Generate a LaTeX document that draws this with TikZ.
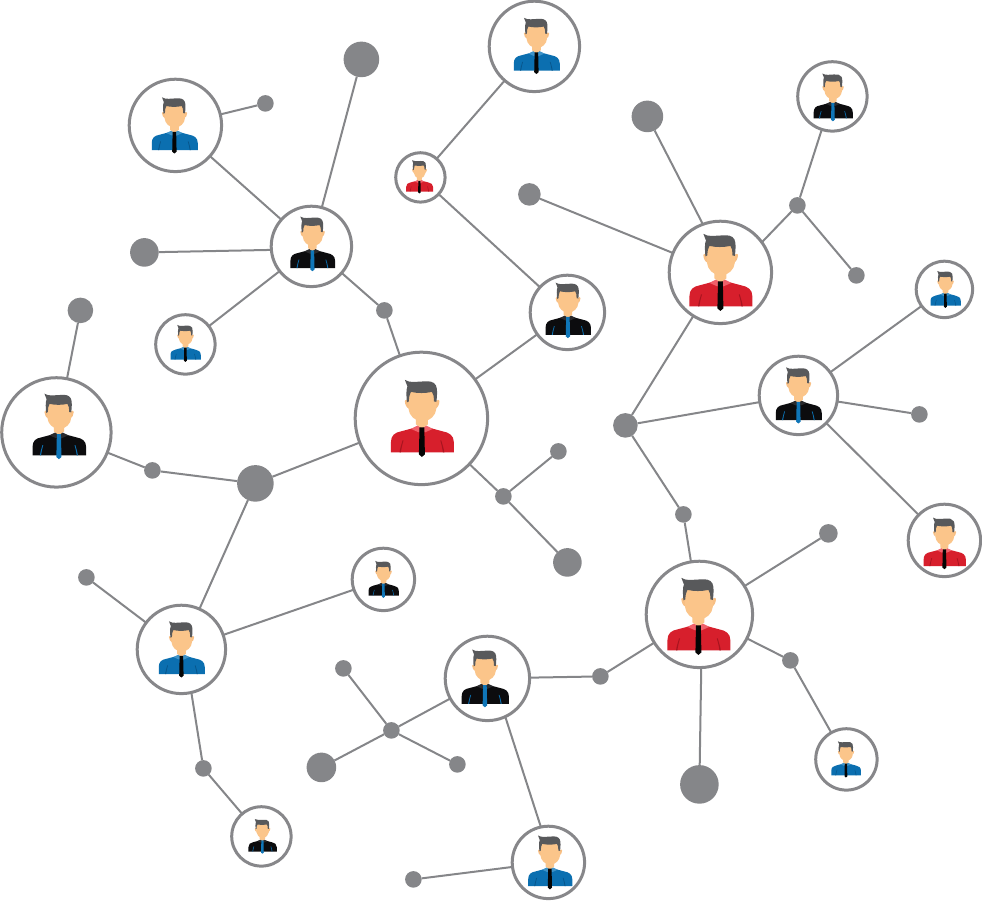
\documentclass[tikz,border=0pt]{standalone}
\definecolor{linegray}{HTML}{858689}
\definecolor{ringgray}{HTML}{87878A}
\definecolor{hairgray}{HTML}{58595B}
\definecolor{skin}{HTML}{FBC58A}
\definecolor{skindark}{HTML}{F8BF84}
\definecolor{shirtred}{HTML}{D71F2C}
\definecolor{collarred}{HTML}{F0606A}
\definecolor{seamred}{HTML}{A8141F}
\definecolor{tiered}{HTML}{050505}
\definecolor{shirtblue}{HTML}{0B6FB0}
\definecolor{collarblue}{HTML}{3F93C8}
\definecolor{seamblue}{HTML}{07568C}
\definecolor{tieblue}{HTML}{050505}
\definecolor{shirtblack}{HTML}{0C0C0E}
\definecolor{collarblack}{HTML}{2A2A2C}
\definecolor{seamblack}{HTML}{0B6FB0}
\definecolor{tieblack}{HTML}{0F76B8}
\tikzset{
  ring/.style={circle,draw=ringgray,line width=3pt,fill=white,inner sep=0pt,outer sep=0pt},
  hub/.style={circle,fill=linegray,inner sep=0pt,outer sep=0pt},
  link/.style={draw=linegray,line width=2pt}
}
% name, x, y, radius, figure x, figure y, figure scale, shirt kind
\newcommand{\personnode}[8]{%
  \node[ring,minimum size=2*#4*1pt-1.6pt] (#1) at (#2,#3) {};
  \begin{scope}[shift={(#5,#6)},scale=#7]
    \fill[shirt#8] (-31,34) -- (-31,24) .. controls (-31,17) and (-27,14) .. (-21,13)
      -- (-6,9) -- (6,9) -- (21,13) .. controls (27,14) and (32,17) .. (32,24) -- (32,34) -- cycle;
    \fill[seam#8] (-22.4,34) .. controls (-21.9,30) and (-20.4,26) .. (-19.4,22) -- (-18.4,22) .. controls (-19.5,26) and (-20.6,30) .. (-21,34) -- cycle;
    \fill[seam#8] (22.4,34) .. controls (21.9,30) and (20.4,26) .. (19.4,22) -- (18.4,22) .. controls (19.5,26) and (20.6,30) .. (21,34) -- cycle;
    \fill[collar#8] (-11,10.5) -- (-4,7) -- (0,10) -- (-3,14) -- cycle;
    \fill[collar#8] (11,10.5) -- (4,7) -- (0,10) -- (3,14) -- cycle;
    \fill[skin] (-6,-6) -- (6,-6) -- (6,6) -- (0,10) -- (-6,6) -- cycle;
    \fill[skindark] (-17,-17) .. controls (-17.5,-19) and (-14,-19) .. (-13,-17) -- (-13,-10) .. controls (-15,-10) and (-17,-14) .. (-17,-17) -- cycle;
    \fill[skindark] (17.5,-17) .. controls (18,-19) and (14.5,-19) .. (13.5,-17) -- (13.5,-10) .. controls (15.5,-10) and (17.5,-14) .. (17.5,-17) -- cycle;
    \fill[skin] (-13.5,-28) -- (14,-28) -- (14.5,-10) .. controls (14,-3) and (8,3) .. (0.5,3) .. controls (-7,3) and (-13,-3) .. (-13.5,-10) -- cycle;
    \fill[hairgray] (-17,-38.5) .. controls (-12,-35) and (-4,-37) .. (2,-37)
      .. controls (7,-37.5) and (12,-37) .. (14,-33) .. controls (16,-29) and (15,-22) .. (14.5,-16.5)
      -- (12,-17) .. controls (12,-22) and (11.5,-25) .. (10,-26.5)
      .. controls (3,-25) and (-4,-25) .. (-11,-26.5)
      .. controls (-12.5,-24) and (-13,-21) .. (-13,-17) -- (-15,-16)
      .. controls (-15.5,-22) and (-16,-28) .. (-14.5,-32) -- cycle;
    \fill[tie#8] (-2.4,9) -- (2.4,9) -- (3,36) -- (0,38.5) -- (-3,36) -- cycle;
  \end{scope}}
\newcommand{\hubnode}[4]{\node[hub,minimum size=2*#4*1pt+0.6pt] (#1) at (#2,#3) {};}
\begin{document}
\begin{tikzpicture}[x=1pt,y=-1pt]
\useasboundingbox (0,0) rectangle (982,900);
\begin{scope}[shift={(0.4,0.4)}]
\personnode{pa}{175}{125}{47}{174}{125}{.73}{blue}
\personnode{pb}{311}{246}{41}{312}{243.5}{.71}{black}
\personnode{pc}{185}{344}{30.5}{185}{343}{.48}{blue}
\personnode{pd}{56}{432}{55.5}{58.5}{426}{.85}{black}
\personnode{pe}{421}{418}{67}{421.5}{418}{1}{red}
\personnode{pf}{534}{46}{46}{536}{45.5}{.73}{blue}
\personnode{pg}{420}{177}{25.5}{419}{176.5}{.43}{red}
\personnode{ph}{567}{312}{38}{567.5}{310}{.72}{black}
\personnode{pi}{720}{272}{52}{720}{272}{1}{red}
\personnode{pj}{832}{96}{35.5}{832.5}{97}{.62}{black}
\personnode{pk}{944}{289}{29}{945}{289}{.48}{blue}
\personnode{pl}{798}{395}{40}{798}{395}{.73}{black}
\personnode{pm}{944}{540}{37}{944}{543}{.67}{red}
\personnode{pn}{699}{614}{54}{698}{616}{1}{red}
\personnode{po}{846}{759}{31.5}{845.5}{759}{.47}{blue}
\personnode{pp}{487}{678}{43}{484.5}{678}{.75}{black}
\personnode{pq}{548}{862}{37}{549.5}{862}{.7}{blue}
\personnode{pr}{181}{649}{45}{181}{649}{.73}{blue}
\personnode{ps}{383}{579}{32}{383}{579}{.48}{black}
\personnode{pt}{261}{836}{30.5}{262}{836}{.45}{black}
\hubnode{da}{361}{59}{17.5}
\hubnode{db}{265}{103}{8}
\hubnode{dc}{144}{252}{14}
\hubnode{dd}{80}{310}{12.5}
\hubnode{de}{384}{310}{8}
\hubnode{df}{152}{470}{8}
\hubnode{dg}{255}{483}{18}
\hubnode{dh}{86}{577}{8}
\hubnode{di}{203}{768}{8}
\hubnode{dj}{503}{496}{8}
\hubnode{dk}{558}{451}{8}
\hubnode{dl}{567}{562}{14}
\hubnode{dm}{647}{116}{15.5}
\hubnode{dn}{529}{194}{11}
\hubnode{do}{797}{205}{8}
\hubnode{dp}{856}{275}{8}
\hubnode{dq}{625}{425}{12}
\hubnode{dr}{919}{414}{8}
\hubnode{ds}{683}{514}{8}
\hubnode{dt}{828}{533}{9}
\hubnode{du}{790}{660}{8}
\hubnode{dv}{699}{784}{19}
\hubnode{dw}{600}{676}{8}
\hubnode{dx}{391}{730}{8}
\hubnode{dy}{343}{668}{8}
\hubnode{dz}{321}{767}{14.5}
\hubnode{dA}{457}{764}{8}
\hubnode{dB}{413}{879}{8}
\foreach \a/\b in {pa/pb,db/pa,da/pb,dc/pb.185,pc/pb,pb/de,de/pe,pd/dd,pd/df,df/dg,dg/pe,dg/pr,
  pr/dh,pr/ps,pr.-77/di,di/pt,pe/ph,ph/pg,pg/pf,pe/dj,dj/dk,dj/dl,pi.110/dm,pi/dn,pi.36/do,do/pj,do/dp,
  pi/dq,dq/pl,pl/pk,pl/dr,pl/pm,dq/ds,ds/pn,pn/dt,pn/du,du/po,pn.272/dv,pn/dw,dw/pp,pp/dx,
  dx/dy,dx/dz,dx/dA,pp.-65/pq.102,pq/dB}
  {\draw[link] (\a) -- (\b);}
\end{scope}
\end{tikzpicture}
\end{document}
